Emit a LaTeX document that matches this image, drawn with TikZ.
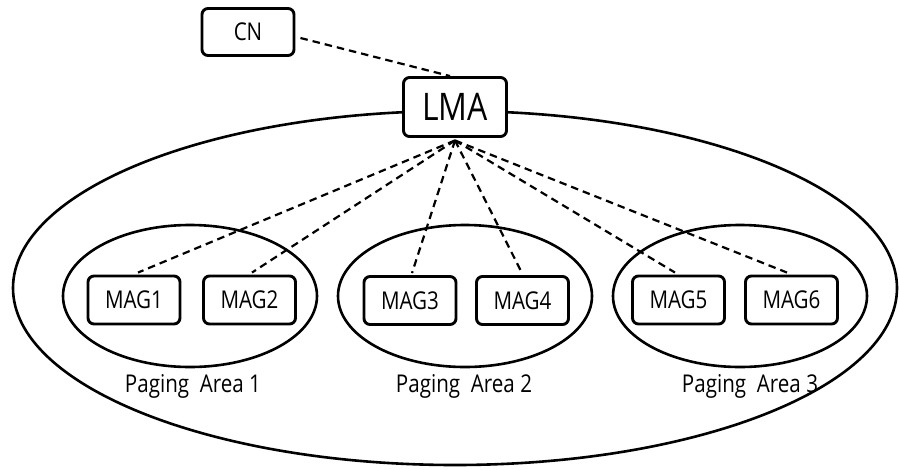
\documentclass[tikz,border=0pt]{standalone}
\usepackage{fontspec}
\usetikzlibrary{shapes.geometric}
\setmainfont{Open Sans}[FakeStretch=0.84]
\begin{document}
\begin{tikzpicture}[x=1pt,y=-1pt,
  box/.style={draw, fill=white, line width=2.9pt, rounded corners=6pt,
    minimum width=92pt, minimum height=48pt, inner sep=0pt,
    font=\fontsize{24.5}{28}\selectfont},
  area/.style={draw, ellipse, line width=2.6pt, minimum width=254pt,
    minimum height=142pt, inner sep=0pt},
  arealabel/.style={anchor=base, inner sep=0pt, font=\fontsize{24.5}{28}\selectfont},
  link/.style={line width=2.2pt, dash pattern=on 7.5pt off 5pt}]
\useasboundingbox (0,0) rectangle (899,469);

% whole domain of the LMA
\draw[line width=2.6pt] (455,288) ellipse [x radius=442pt, y radius=177pt];

% paging areas
\node[area] (pa1) at (190,296) {};
\node[area] (pa2) at (465,296) {};
\node[area] (pa3) at (740,296) {};
\node[arealabel] (l1) at (193,392) {Paging~~Area 1};
\node[arealabel] (l2) at (464,392) {Paging~~Area 2};
\node[arealabel] (l3) at (750,392) {Paging~~Area 3};

% entities
\node[box] (cn) at (248,32) [minimum height=47pt] {CN};
\node[box, minimum width=103pt, minimum height=59pt,
  font=\fontsize{38}{42}\selectfont] (lma) at (455,107) {LMA};
\node[box] (mag1) at (134,300) {MAG1};
\node[box] (mag2) at (249.5,300) {MAG2};
\node[box] (mag3) at (410,300.5) {MAG3};
\node[box] (mag4) at (522.5,300.5) {MAG4};
\node[box] (mag5) at (678.5,300) {MAG5};
\node[box] (mag6) at (791.5,300) {MAG6};

% signalling paths
\coordinate (hub) at ([yshift=-2.5pt]lma.south);
\draw[link] ([shift={(5pt,-6pt)}]cn.east) -- ([xshift=-5pt]lma.north);
\foreach \m/\dx in {mag1/4,mag2/2.5,mag3/2,mag4/-0.5,mag5/-3.5,mag6/-4.5}
  \draw[link] (hub) -- ([shift={(\dx pt,2pt)}]\m.north);
\end{tikzpicture}
\end{document}
